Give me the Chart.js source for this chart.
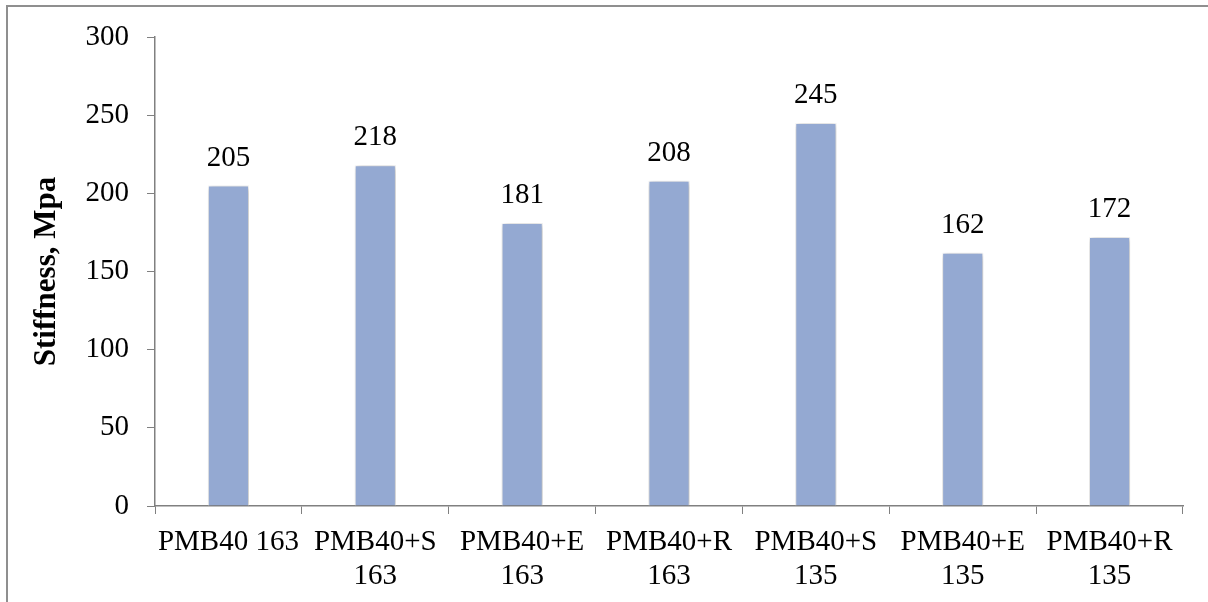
<!DOCTYPE html>
<html>
<head>
<meta charset="utf-8">
<script src="https://cdn.jsdelivr.net/npm/chart.js@4"></script>
<style>
  html, body { margin: 0; padding: 0; background: #fff; }
  #wrap { width: 1208px; height: 602px; position: relative; }
</style>
</head>
<body>
<div id="wrap"><canvas id="c" width="1208" height="602"></canvas></div>
<script>
// Stiffness of binder mixes
const categories = [
  ['PMB40 163'],
  ['PMB40+S', '163'],
  ['PMB40+E', '163'],
  ['PMB40+R', '163'],
  ['PMB40+S', '135'],
  ['PMB40+E', '135'],
  ['PMB40+R', '135']
];
const stiffness = [205, 218, 181, 208, 245, 162, 172];
const yTicks = [0, 50, 100, 150, 200, 250, 300];

const serif = '"Liberation Serif", "Times New Roman", serif';
const axisGray = '#808080';

// Frame lines at the left and top of the canvas
const framePlugin = {
  id: 'frame',
  beforeDraw(chart) {
    const ctx = chart.ctx;
    ctx.save();
    ctx.strokeStyle = '#8f8f8f';
    ctx.lineWidth = 2;
    ctx.beginPath();
    ctx.moveTo(7, chart.height);
    ctx.lineTo(7, 6);
    ctx.lineTo(chart.width, 6);
    ctx.stroke();
    ctx.restore();
  }
};

// Soft drop shadow behind the bars
const shadowPlugin = {
  id: 'barShadow',
  beforeDatasetDraw(chart) {
    const ctx = chart.ctx;
    ctx.save();
    ctx.shadowColor = 'rgba(0,0,0,0.32)';
    ctx.shadowBlur = 6;
    ctx.shadowOffsetX = 1;
    ctx.shadowOffsetY = 1;
  },
  afterDatasetDraw(chart) {
    chart.ctx.restore();
  }
};

// Value labels above each bar
const valueLabelPlugin = {
  id: 'valueLabels',
  afterDatasetsDraw(chart) {
    const ctx = chart.ctx;
    const meta = chart.getDatasetMeta(0);
    ctx.save();
    ctx.font = '29px ' + serif;
    ctx.fillStyle = '#000';
    ctx.textAlign = 'center';
    ctx.textBaseline = 'alphabetic';
    meta.data.forEach((bar, i) => {
      ctx.fillText(String(chart.data.datasets[0].data[i]), bar.x, bar.y - 20);
    });
    ctx.restore();
  }
};

new Chart(document.getElementById('c'), {
  type: 'bar',
  data: {
    labels: categories,
    datasets: [{
      data: stiffness,
      backgroundColor: '#94A9D2',
      borderColor: '#ffffff',
      borderWidth: 1,
      categoryPercentage: 1,
      barPercentage: 0.28
    }]
  },
  options: {
    responsive: false,
    animation: false,
    devicePixelRatio: 1,
    layout: { padding: { left: 0, top: 37, right: 25, bottom: 0 } },
    plugins: {
      legend: { display: false },
      tooltip: { enabled: false }
    },
    scales: {
      x: {
        grid: {
          offset: true,
          drawOnChartArea: false,
          drawTicks: true,
          tickLength: 8,
          color: axisGray
        },
        border: { color: axisGray, width: 1.5 },
        ticks: {
          font: { family: serif, size: 29, lineHeight: 1.16 },
          color: '#000',
          padding: 12,
          maxRotation: 0,
          minRotation: 0,
          autoSkip: false
        },
        afterFit(scale) { scale.height = 96; }
      },
      y: {
        min: 0,
        max: 300,
        afterBuildTicks(scale) { scale.ticks = yTicks.map(v => ({ value: v })); },
        grid: {
          drawOnChartArea: false,
          drawTicks: true,
          tickLength: 8,
          color: axisGray
        },
        border: { color: axisGray, width: 1.5 },
        ticks: {
          font: { family: serif, size: 29 },
          color: '#000',
          padding: 18
        },
        title: {
          display: true,
          text: 'Stiffness, Mpa',
          font: { family: serif, size: 31, weight: 'bold', lineHeight: 1.2 },
          color: '#000',
          padding: { top: 28, bottom: 0 }
        },
        afterFit(scale) { scale.width = 155; }
      }
    }
  },
  plugins: [framePlugin, shadowPlugin, valueLabelPlugin]
});
</script>
</body>
</html>
